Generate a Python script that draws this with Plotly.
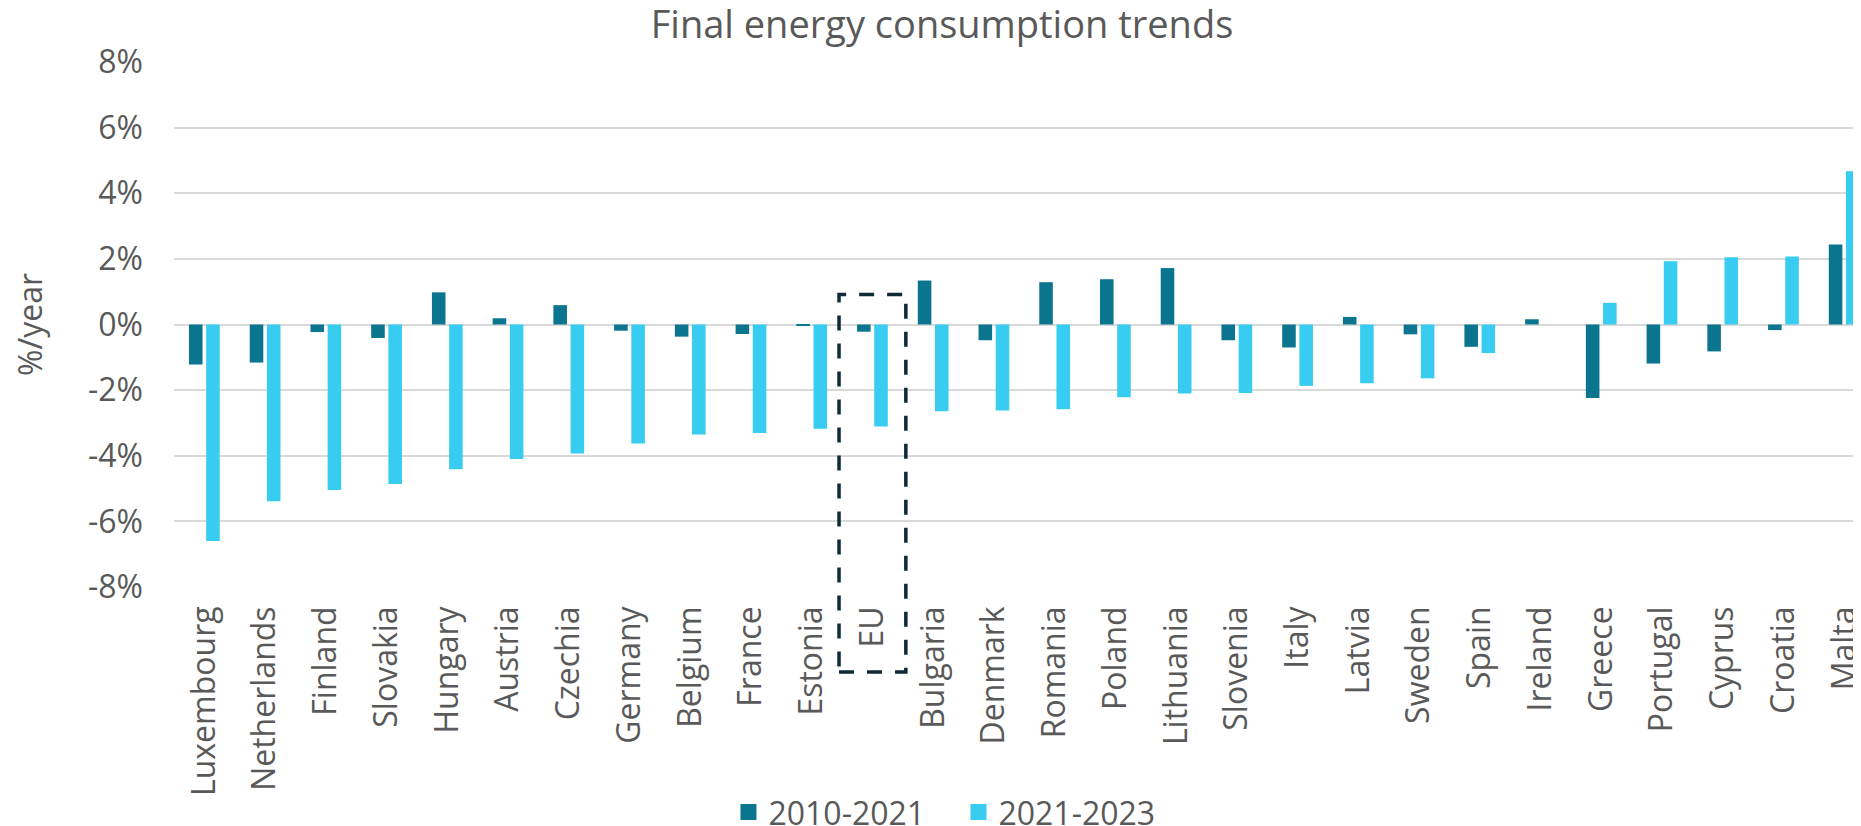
import plotly.graph_objects as go

countries = ["Luxembourg", "Netherlands", "Finland", "Slovakia", "Hungary", "Austria",
             "Czechia", "Germany", "Belgium", "France", "Estonia", "EU", "Bulgaria",
             "Denmark", "Romania", "Poland", "Lithuania", "Slovenia", "Italy", "Latvia",
             "Sweden", "Spain", "Ireland", "Greece", "Portugal", "Cyprus", "Croatia", "Malta"]

trend_2010_2021 = [-1.22, -1.16, -0.23, -0.41, 0.98, 0.19, 0.59, -0.19, -0.37, -0.29,
                   -0.02, -0.22, 1.34, -0.48, 1.29, 1.38, 1.72, -0.48, -0.70, 0.23,
                   -0.30, -0.68, 0.16, -2.24, -1.19, -0.82, -0.17, 2.44]

trend_2021_2023 = [-6.60, -5.39, -5.04, -4.86, -4.41, -4.10, -3.93, -3.63, -3.35, -3.31,
                   -3.18, -3.11, -2.64, -2.62, -2.58, -2.22, -2.10, -2.09, -1.87, -1.79,
                   -1.64, -0.87, 0.00, 0.66, 1.93, 2.05, 2.07, 4.67]

series_names = ["2010-2021", "2021-2023"]
colors = ["#0B7590", "#38CDF0"]
y_ticks = [-8, -6, -4, -2, 0, 2, 4, 6, 8]
y_tick_labels = [f"{v}%" for v in y_ticks]

FONT = "Open Sans"
TEXT = "#595959"

# the page body has an 8px margin, so the figure is drawn 8px smaller and shifted
W, H = 1853, 818

fig = go.Figure()
for name, vals, col in zip(series_names, [trend_2010_2021, trend_2021_2023], colors):
    fig.add_trace(go.Bar(x=countries, y=vals, name=name, marker=dict(color=col, line=dict(width=0)),
                         showlegend=False))
    # legend proxy with larger square symbol
    fig.add_trace(go.Scatter(x=[None], y=[None], mode="markers", name=name,
                             marker=dict(symbol="square", size=20, color=col)))

eu_idx = countries.index("EU")
fig.add_shape(type="rect", xref="x", yref="paper",
              x0=eu_idx - 0.55, x1=eu_idx + 0.55, y0=-0.162, y1=0.557,
              line=dict(color="#0D2A36", width=3.5, dash="15px,13px"),
              fillcolor="rgba(0,0,0,0)", layer="above")

fig.update_layout(
    width=W, height=H,
    margin=dict(l=166, r=0, t=54, b=239, autoexpand=False),
    paper_bgcolor="white", plot_bgcolor="white",
    font=dict(family=FONT, color=TEXT, size=32),
    title=dict(text="Final energy consumption trends", x=934 / W, xref="container",
               xanchor="center", y=1 - 17 / H, yref="container", yanchor="middle",
               font=dict(size=38, color=TEXT, family=FONT)),
    barmode="group", bargap=0.434, bargroupgap=0.21,
    legend=dict(orientation="h", x=0.465, xanchor="center", y=-0.429, yanchor="middle",
                font=dict(size=32, color=TEXT, family=FONT), itemwidth=30,
                entrywidth=185, entrywidthmode="pixels",
                bgcolor="rgba(0,0,0,0)"),
    showlegend=True,
)

fig.update_xaxes(range=[-0.5, 27.277], tickangle=-90, showgrid=False, zeroline=False,
                 showline=False, ticks="", tickfont=dict(size=32, color=TEXT, family=FONT),
                 ticklabelstandoff=12, automargin=False)
fig.update_yaxes(range=[-8, 8], tickvals=y_ticks, ticktext=y_tick_labels,
                 showgrid=True, gridcolor="#D9D9D9", gridwidth=2,
                 zeroline=True, zerolinecolor="#D9D9D9", zerolinewidth=2,
                 showline=False, ticks="", tickfont=dict(size=32, color=TEXT, family=FONT),
                 ticklabelstandoff=30, automargin=False,
                 title=dict(text="%/year", font=dict(size=32, color=TEXT, family=FONT), standoff=48))

fig.write_html("out.html")
